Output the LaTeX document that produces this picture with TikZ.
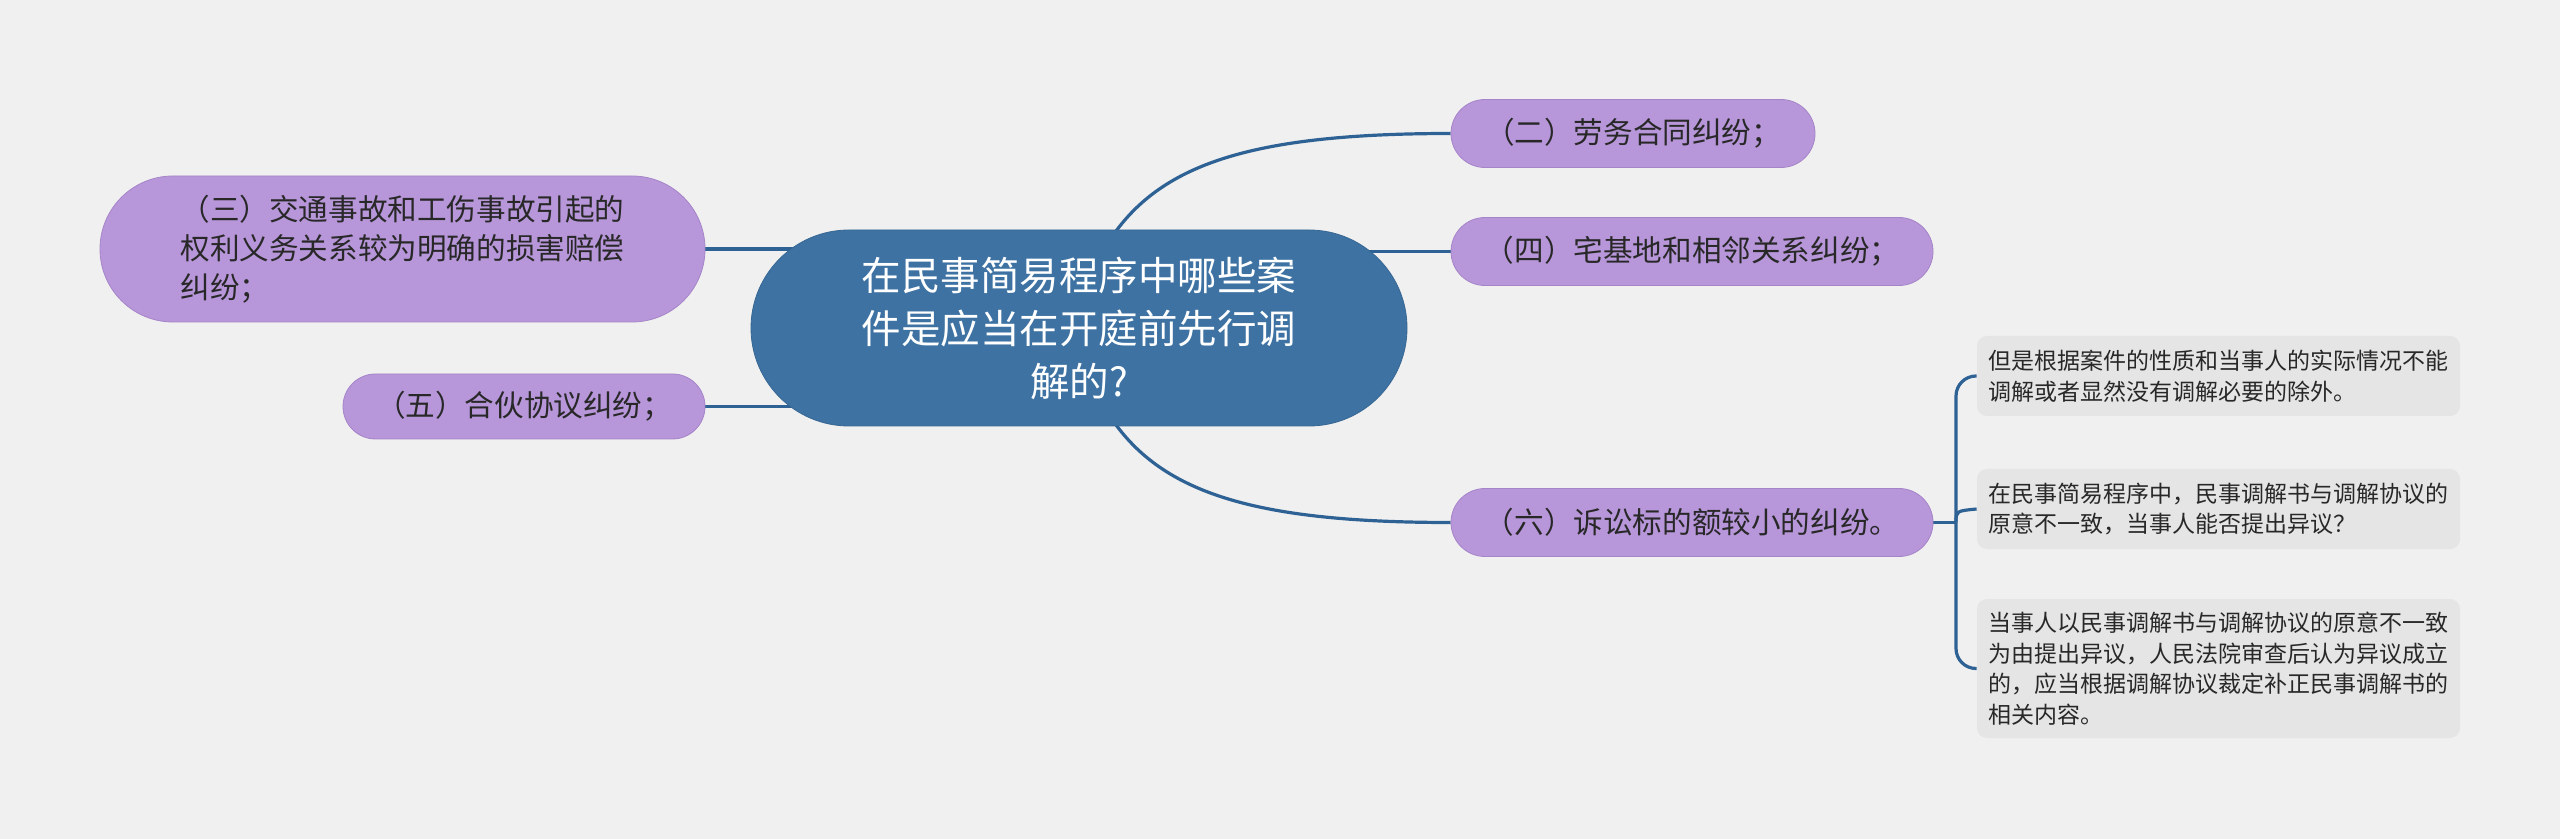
\documentclass[tikz,border=0pt]{standalone}
\usepackage{fontspec}
\setmainfont{Noto Sans CJK SC}
\usetikzlibrary{backgrounds,calc}
\definecolor{bgc}{RGB}{240,240,240}
\definecolor{centc}{RGB}{61,114,163}
\definecolor{purp}{RGB}{183,150,217}
\definecolor{purpline}{RGB}{165,132,200}
\definecolor{leafc}{RGB}{229,229,229}
\definecolor{linec}{RGB}{47,98,148}
\definecolor{txt}{RGB}{40,40,40}
\begin{document}
\begin{tikzpicture}[x=0.5pt,y=-0.5pt,
  cnode/.style={rectangle, fill=centc, draw=centc!90!black, line width=0.4pt, text=white, inner sep=0pt,
    minimum width=328pt, minimum height=98pt, rounded corners=49pt, align=center,
    font=\fontsize{19.75pt}{26.5pt}\selectfont},
  pnode/.style={rectangle, fill=purp, draw=purpline, line width=0.4pt, text=txt, inner sep=0pt,
    minimum height=34pt, rounded corners=17pt,
    font=\fontsize{14.8pt}{19.5pt}\selectfont},
  lnode/.style={rectangle, fill=leafc, text=txt, inner xsep=5.75pt, inner ysep=0pt,
    text width=230pt, align=left, rounded corners=5pt,
    font=\fontsize{11.5pt}{15.25pt}\selectfont},
  conn/.style={draw=linec, line width=1.6pt}]
\useasboundingbox (0,0) rectangle (2560,839);

\node[cnode] (c) at (1079,328) {在民事简易程序中哪些案\\件是应当在开庭前先行调\\解的?};
\node[pnode, minimum width=182pt] (p2) at (1633,133.5) {（二）劳务合同纠纷；};
\node[pnode, minimum width=241pt] (p4) at (1692,251.5) {（四）宅基地和相邻关系纠纷；};
\node[pnode, minimum width=241pt] (p6) at (1692,522.5) {（六）诉讼标的额较小的纠纷。};
\node[pnode, minimum width=302.5pt, minimum height=73pt, rounded corners=36.5pt, align=left] (p3) at (402.5,249)
  {（三）交通事故和工伤事故引起的\\权利义务关系较为明确的损害赔偿\\纠纷；};
\node[pnode, minimum width=181pt, minimum height=32.5pt, rounded corners=16.25pt] (p5) at (524,406.5) {（五）合伙协议纠纷；};

\node[lnode, minimum height=40pt] (l1) at (2218.5,376) {但是根据案件的性质和当事人的实际情况不能\\调解或者显然没有调解必要的除外。};
\node[lnode, minimum height=40pt] (l2) at (2218.5,509) {在民事简易程序中，民事调解书与调解协议的\\原意不一致，当事人能否提出异议？};
\node[lnode, minimum height=69.5pt] (l3) at (2218.5,668.5) {当事人以民事调解书与调解协议的原意不一致\\为由提出异议，人民法院审查后认为异议成立\\的，应当根据调解协议裁定补正民事调解书的\\相关内容。};

\coordinate (j) at (1956,522.5);

\begin{scope}[on background layer]
\fill[bgc] (0,0) rectangle (2560,839);
\draw[conn] ($(c.north)+(31,10)$) .. controls ($(c.north)+(81,-65)$) and ($(p2.west)+(-201,0)$) .. (p2.west);
\draw[conn] ($(c.south)+(31,-10)$) .. controls ($(c.south)+(81,65)$) and ($(p6.west)+(-201,0)$) .. (p6.west);
\draw[conn] (p4.west) -- (p4.west -| c.center);
\draw[conn] (p3.east) -- (p3.east -| c.center);
\draw[conn] (p5.east) -- (p5.east -| c.center);
\draw[conn] (p6.east) -- (j);
\draw[conn, rounded corners=10pt] (j) |- (l1.west);
\draw[conn, rounded corners=10pt] (j) |- (l3.west);
\draw[conn] (j) .. controls ($(j |- l2.west)+(0,2)$) .. (l2.west);
\end{scope}
\end{tikzpicture}
\end{document}
